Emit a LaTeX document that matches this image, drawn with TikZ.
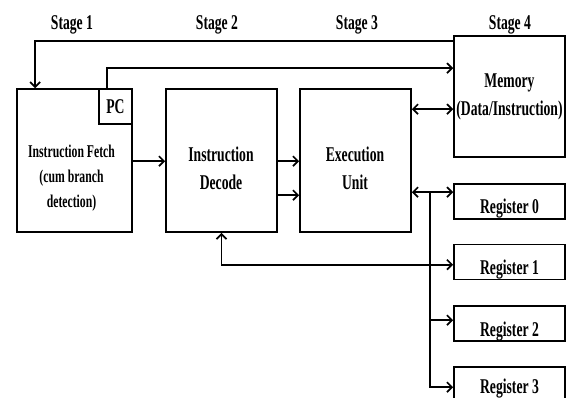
\documentclass[tikz,border=0pt]{standalone}
\usepackage{fontspec}
\setmainfont{Liberation Serif}[FakeStretch=0.65]
\usetikzlibrary{arrows.meta}

\begin{document}
\begin{tikzpicture}[x=1pt,y=-1pt,
  blk/.style={draw,line width=1.7pt,inner sep=0pt},
  arr/.style={line width=1.7pt,-{Straight Barb[length=5pt,width=10pt]}},
  darr/.style={line width=1.7pt,{Straight Barb[length=5pt,width=10pt]}-{Straight Barb[length=5pt,width=10pt]}},
  big/.style={font=\bfseries\fontsize{21}{28}\selectfont,align=center},
  small/.style={font=\bfseries\fontsize{18}{25}\selectfont,align=center}]
\useasboundingbox (0,0) rectangle (570,397);

\node[blk,minimum width=115,minimum height=143] (fetch) at (74.5,160.5) {};
\node[blk,minimum width=33,minimum height=35,big,anchor=north east] (pc) at (fetch.north east) {PC};
\node[blk,minimum width=111,minimum height=143] (decode) at (221.5,160.5) {};
\node[blk,minimum width=111,minimum height=143] (exec) at (355.5,160.5) {};
\node[blk,minimum width=111,minimum height=121] (mem) at (509.5,96.5) {};
\foreach \i/\y in {0/201.5,1/262,2/323.5,3/384.5}
  \node[blk,minimum width=111,minimum height=35] (reg\i) at (509.5,\y) {};

\node[small] (fetchtxt) at (71.5,178) {Instruction Fetch\\(cum branch\\detection)};
\node[big] (dectxt) at (221,168) {Instruction\\Decode};
\node[big] (exectxt) at (355,168) {Execution\\Unit};
\node[big] (memtxt) at (509.5,96.5) {Memory\\(Data/Instruction)};
\foreach \i/\d in {0/30,1/31,2/31,3/27}
  \node[big,anchor=base] (regtxt\i) at ([yshift=-\d]reg\i.north) {Register \i};

\foreach \s/\x in {1/72,2/217,3/357,4/510}
  \node[big] (stage\s) at (\x,25) {Stage \s};

\draw[arr] ([yshift=-6]mem.north west) -| ([xshift=19]fetch.north west);
\draw[arr] ([xshift=9]pc.north west) |- ([yshift=-33]mem.north west);
\draw[arr] ([yshift=-73]fetch.north east) -- ([yshift=-73]decode.north west);
\draw[arr] ([yshift=-73]decode.north east) -- ([yshift=-73]exec.north west);
\draw[arr] ([yshift=-107]decode.north east) -- ([yshift=-107]exec.north west);

\coordinate (em) at ([yshift=-21]exec.north east);
\draw[darr] (em) -- (em -| mem.west);
\coordinate (er) at ([yshift=-9]reg0.north west);
\draw[darr] (er -| exec.east) -- (er);
\coordinate (bus) at ([xshift=-23]er);
\draw[arr] (bus) |- ([yshift=-21]reg3.north west);
\coordinate (r2) at ([yshift=-15]reg2.north west);
\draw[arr] (bus |- r2) -- (r2);
\coordinate (r1) at ([yshift=-21]reg1.north west);
\draw[darr] (r1) -| (decode.south);
\end{tikzpicture}
\end{document}
